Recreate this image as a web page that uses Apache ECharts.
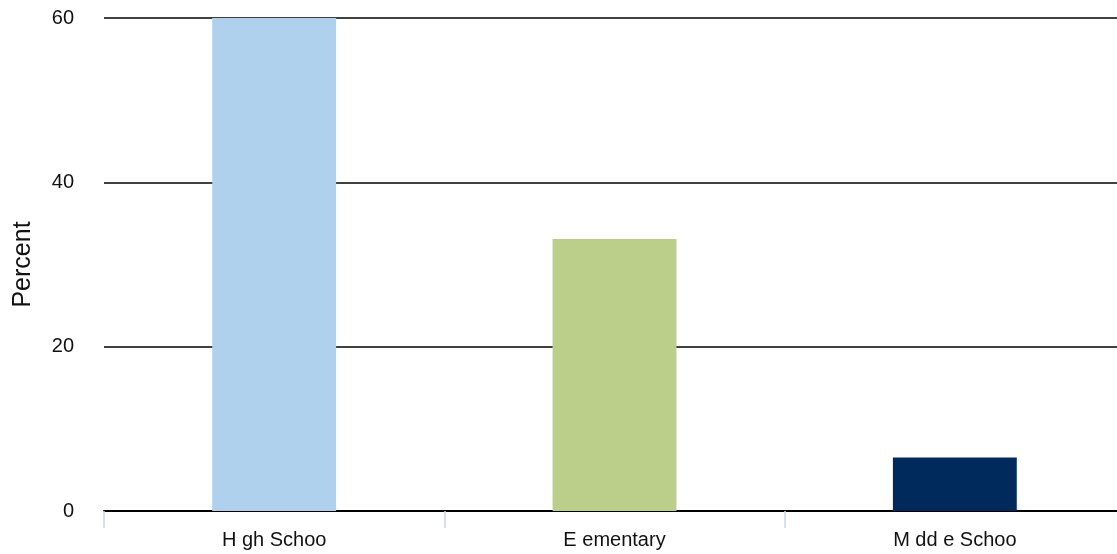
<!DOCTYPE html>
<html>
<head>
<meta charset="utf-8">
<script src="https://cdn.jsdelivr.net/npm/echarts@6/dist/echarts.min.js"></script>
<style>
  html, body { margin: 0; padding: 0; background: #fff; }
  #chart { width: 1117px; height: 554px; }
</style>
</head>
<body>
<div id="chart"></div>
<script>
// School levels and their share, in percent
const categories = ['H gh Schoo', 'E ementary', 'M dd e Schoo'];
const percentValues = [60, 33.1, 6.5];
const barColors = ['#b0d1ed', '#bccf8a', '#002a5c'];
const yTicks = [0, 20, 40, 60];

const chart = echarts.init(document.getElementById('chart'), null, { renderer: 'canvas' });

chart.setOption({
  animation: false,
  textStyle: { fontFamily: 'Liberation Sans, Arial, sans-serif' },
  // plot area runs slightly past the right edge of the canvas
  grid: { left: 104, width: 1021, top: 18, height: 493, containLabel: false, outerBoundsMode: 'none' },
  xAxis: {
    type: 'category',
    data: categories,
    axisLine: { show: true, onZero: false, lineStyle: { color: '#000', width: 2 } },
    axisTick: { show: true, alignWithLabel: false, length: 17, lineStyle: { color: '#c9d6ea', width: 1.5 } },
    axisLabel: { color: '#111', fontSize: 20, margin: 19 }
  },
  yAxis: {
    type: 'value',
    min: yTicks[0],
    max: yTicks[yTicks.length - 1],
    interval: 20,
    name: 'Percent',
    nameLocation: 'middle',
    nameGap: 68,
    nameTextStyle: { color: '#111', fontSize: 25 },
    axisLine: { show: false },
    axisTick: { show: false },
    axisLabel: { color: '#111', fontSize: 20, margin: 30, padding: [3, 0, 0, 0] },
    splitLine: { show: true, lineStyle: { color: '#000', width: 1.5 } }
  },
  series: [{
    type: 'bar',
    data: percentValues.map((v, i) => ({ value: v, itemStyle: { color: barColors[i] } })),
    barWidth: '36.4%'
  }]
});
</script>
</body>
</html>
